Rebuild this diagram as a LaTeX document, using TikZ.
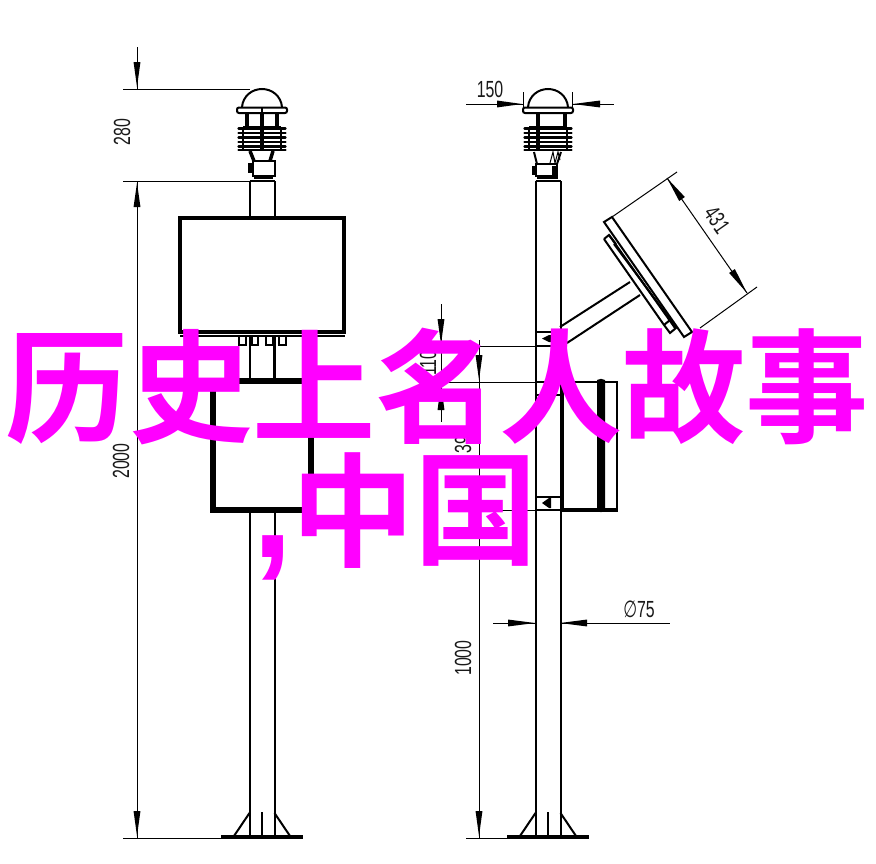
\documentclass[tikz,border=0pt]{standalone}
\usepackage{fontspec}
\usepackage{graphicx}
\usetikzlibrary{calc}
\setmainfont{Liberation Sans}
\newfontfamily\cjk{Noto Sans CJK SC}[BoldFont={Noto Sans CJK SC Bold}]
\newfontfamily\dejav{DejaVu Sans}
\definecolor{pinktext}{HTML}{FF00FF}
\tikzset{
  thinl/.style={line width=0.75pt,black},
  midl/.style={line width=1.5pt,black},
  thickl/.style={line width=2.6pt,black},
  dimtext/.style={font=\fontsize{17.5}{19}\selectfont,inner sep=0pt,text=black!90},
  bigtext/.style={font=\cjk\bfseries\fontsize{92.5}{100}\selectfont,text=pinktext,inner sep=0pt,anchor=center},
}
\newcommand{\dt}[1]{\scalebox{0.68}[1]{#1}}
% filled dimension arrowhead: #1 tip, #2 base centre
\newcommand{\dimhead}[2]{%
  \path [fill=black] #1 -- ($#2!2.6pt!90:#1$) -- ($#2!2.6pt!-90:#1$) -- cycle;}
% dome, flange and fins common to both sensor heads
\newcommand{\sensortop}{%
    \draw[midl] (-20,107) .. controls (-19,96) and (-10,89) .. (0,89) .. controls (10,89) and (19,96) .. (20,107);
    \draw[midl,rounded corners=1.5] (-25,107.5) -- (25,107.5) -- (25,113) -- (-25,113) -- cycle;
    \draw[midl] (-19,126.5)--(19,126.5);
    \foreach \yy in {128.5,133,137.5,142,146.5,150}{
      \draw[line width=1.8pt,line cap=round] (-23.5,\yy) -- (23.5,\yy);}
    \draw[midl] (-19,128)--(-19,150) (19,128)--(19,150);}
% front view of the head on the left pole
\newcommand{\sensorleft}[1]{%
  \begin{scope}[shift={(#1,0)}]
    \sensortop
    \draw[midl] (0,107.5)--(0,113);
    \draw[line width=2.4pt] (-15,113)--(-15,127) (0,113)--(0,127) (15,113)--(15,127);
    \draw[line width=3.4pt] (0,127)--(0,151);
    \draw[line width=2.6pt] (-12,151)--(-8,161) (11,151)--(8,161);
    \draw[midl] (-9,161) rectangle (13,176);
    \draw[midl] (-8,178) -- (11,178);
    \draw[line width=3.6pt] (-12,163)--(-12,173);
  \end{scope}}
% side view of the head on the right pole
\newcommand{\sensorright}[1]{%
  \begin{scope}[shift={(#1,0)}]
    \sensortop
    \draw[line width=2.6pt] (-10,113)--(-10,127) (17,113)--(17,127);
    \draw[line width=3.4pt] (-10,127)--(-10,151);
    \draw[midl] (-14,152)--(-11,164) (13,152)--(9,164);
    \draw[thinl] (2,163)--(5,152)--(7,163)--(10,152)--(12,160);
    \draw[midl] (-12,164) rectangle (9,176);
    \draw[midl] (-11,178) -- (10,178);
    \draw[line width=3.6pt] (-13.5,166)--(-13.5,175) (6.5,166)--(6.5,175);
  \end{scope}}
% pole, base plate, gussets at centre x=#1
\newcommand{\polebody}[1]{%
  \begin{scope}[shift={(#1,0)}]
    \draw[midl] (-12.5,181) -- (12.5,181);
    \draw[midl] (-12.5,181) -- (-12.5,837) (12.5,181) -- (12.5,837);
    \draw[line width=2.6pt] (-41,837) -- (41,837);
    \draw[line width=2.2pt] (0,812) -- (0,837);
    \draw[midl] (-12.5,813) -- (-28,836) (12.5,813) -- (28,836);
  \end{scope}}
\begin{document}
\begin{tikzpicture}[x=0.75pt,y=-0.75pt]
\useasboundingbox[fill=white] (0,0) rectangle (876,864);

% ---------- left assembly
\polebody{262}
\sensorleft{262}
\fill[white] (180,217) rectangle (345,337);
\fill[white] (212,381) rectangle (312,510);
\draw[line width=2.4pt] (180,218) rectangle (344,332);
\draw[midl] (180,336) -- (345,336);
\draw[midl] (239,336) -- (239,345) -- (246,345) -- (246,336);
\draw[midl] (252,336) -- (252,345) -- (258,345) -- (258,336);
\draw[midl] (266,336) -- (266,345) -- (273,345) -- (273,336);
\draw[midl] (279,336) -- (279,345) -- (286,345) -- (286,336);
\draw[midl] (250,345) -- (250,381) (274,345) -- (274,381);
\draw[line width=4pt] (213,381) rectangle (311,510);

% left dimensions
\draw[thinl] (137,47) -- (137,89);
\draw[thinl] (137,181) -- (137,838);
\draw[thinl] (123,89) -- (250,89);
\draw[thinl] (123,181) -- (250,181);
\draw[thinl] (123,838) -- (221,838);
\dimhead{(137,87)}{(137,62)}
\dimhead{(137,183)}{(137,207)}
\dimhead{(137,836)}{(137,811)}
\node[dimtext,rotate=90] (dim280) at (122,132) {\dt{280}};
\node[dimtext,rotate=90] (dim2000) at (121,461) {\dt{2000}};

% ---------- right assembly
\polebody{548}
\sensorright{548}
\draw[midl] (535,332) -- (560,332);
\draw[midl] (535,346) -- (560,346);
\fill[black] (542,338.5) -- (549,335) -- (551,335) -- (551,342) -- (549,342) -- cycle;
\draw[midl] (535,382) -- (562,382) (535,395) -- (562,395);
\draw[midl] (535,497) -- (562,497) (535,510) -- (562,510);
\fill[black] (542,503) -- (549,498) -- (551,498) -- (551,508) -- (549,508) -- cycle;
\draw[line width=3pt] (561.5,382) -- (561.5,511);
\draw[line width=2pt] (561,382) -- (617,382) -- (617,511);
\draw[line width=3pt] (561,510) -- (618,510);
\fill[black] (597,380) to[bend left=30] (605,380) -- (605,511) to[bend left=30] (597,511) -- cycle;

% solar panel
\draw[midl] (604,222) -- (612,217) -- (692,332) -- (684,337) -- cycle;
\draw[midl] (604,239) -- (609,235) -- (616,244);
\draw[midl] (604,239) -- (664,325) -- (670,333) -- (676,328) -- (670,320);
\draw[midl] (664,325) -- (670,320);
\draw[midl] (609,235) -- (675,328);
\draw[midl] (614,244) -- (672,322);
\draw[midl] (560,327) -- (630,282);
\draw[midl] (567,343) -- (640,295);
\draw[thinl] (612,217) -- (677,172);
\draw[thinl] (700,328) -- (757,287);
\draw[thinl] (667,178) -- (747,293);
\dimhead{(667,178)}{(682,199)}
\dimhead{(747,293)}{(732,271)}
\node[dimtext,rotate=-55] (dim431) at (717,220) {\dt{431}};

% top width dimension
\draw[thinl] (523,92) -- (523,110) (572,92) -- (572,110);
\draw[thinl] (466,104) -- (523,104) (572,104) -- (614,104);
\dimhead{(522,104)}{(497,104)}
\dimhead{(573,104)}{(600,104)}
\node[dimtext] (dim150) at (490,89) {\dt{150}};

% left-hand dimensions of right assembly
\draw[thinl] (479,340) -- (479,838);
\draw[thinl] (441,304) -- (441,422);
\draw[thinl] (479,346) -- (535,346);
\draw[thinl] (442,382) -- (535,382);
\draw[thinl] (479,510) -- (535,510);
\draw[thinl] (466,838) -- (507,838);
\dimhead{(441,344)}{(441,319)}
\dimhead{(441,384)}{(441,410)}
\dimhead{(479,380)}{(479,355)}
\dimhead{(479,512)}{(479,536)}
\dimhead{(479,836)}{(479,811)}
\node[dimtext,rotate=90] (dim110) at (428,363) {\dt{110}};
\node[dimtext,rotate=90] (dim390) at (463,440) {\dt{390}};
\node[dimtext,rotate=90] (dim1000) at (463,658) {\dt{1000}};

% diameter
\draw[thinl] (493,623) -- (535,623) (560,623) -- (670,623);
\dimhead{(535,623)}{(508,623)}
\dimhead{(560,623)}{(587,623)}
\node[dimtext] (dim75) at (639,609) {\dt{{\dejav ∅}75}};

% ---------- overlay text
\node[bigtext] (title1) at (437.5,387) {历史上名人故事};
\node[bigtext] (title2a) at (353,511) {中};
\node[bigtext] (title2b) at (476,511) {国};
\node[font=\bfseries\fontsize{110}{110}\selectfont,text=pinktext,inner sep=0pt] (comma) at (273,558) {,};
\end{tikzpicture}
\end{document}
